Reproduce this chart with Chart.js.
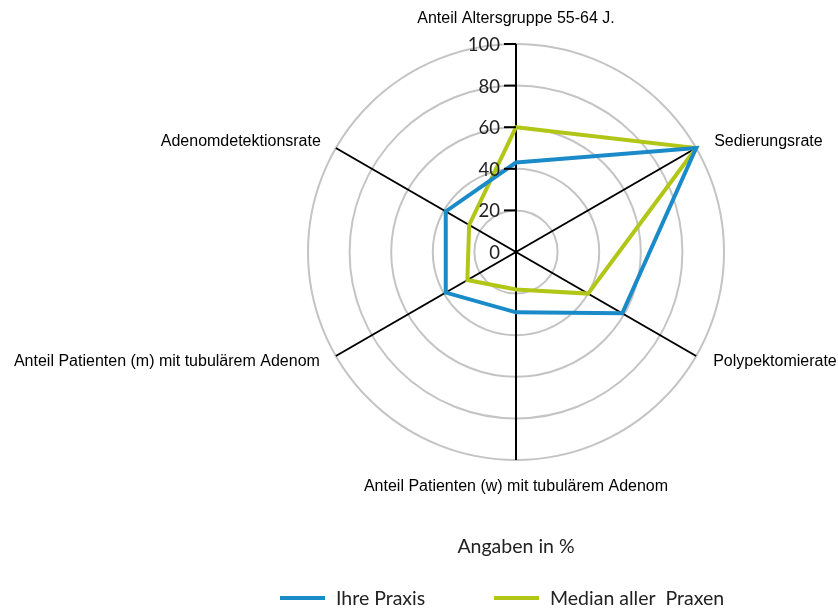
<!DOCTYPE html>
<html>
<head>
<meta charset="utf-8">
<script src="https://cdn.jsdelivr.net/npm/chart.js@4/dist/chart.umd.min.js"></script>
<style>
  html, body { margin: 0; padding: 0; background: #fff; }
  #wrap { width: 838px; height: 610px; }
</style>
</head>
<body>
<div id="wrap"><canvas id="c" width="838" height="610"></canvas></div>
<script>
const categories = [
  'Anteil Altersgruppe 55-64 J.',
  'Sedierungsrate',
  'Polypektomierate',
  'Anteil Patienten (w) mit tubulärem Adenom',
  'Anteil Patienten (m) mit tubulärem Adenom',
  'Adenomdetektionsrate'
];
const ihrePraxis = [43, 100, 59, 29, 39, 39];
const medianAllerPraxen = [60, 100, 40, 18, 27, 26];
const tickValues = [0, 20, 40, 60, 80, 100];
const seriesNames = ['Ihre Praxis', 'Median aller  Praxen'];
const axisNote = 'Angaben in %';

const BLUE = '#1a8ac8';
const GREEN = '#b2c617';

const labelPlugin = {
  id: 'customLabels',
  afterDraw(chart) {
    const s = chart.scales.r;
    const ctx = chart.ctx;
    ctx.save();
    // radial ticks at the vertical axis
    ctx.font = '18.5px Lato';
    ctx.fillStyle = '#222';
    ctx.textAlign = 'right';
    ctx.textBaseline = 'middle';
    ctx.strokeStyle = '#000';
    ctx.lineWidth = 2;
    tickValues.forEach(v => {
      const y = s.yCenter - s.getDistanceFromCenterForValue(v);
      ctx.fillText(String(v), s.xCenter - 16, y + 1);
      if (v > 0) {
        ctx.beginPath();
        ctx.moveTo(s.xCenter - 12, y);
        ctx.lineTo(s.xCenter, y);
        ctx.stroke();
      }
    });
    // point labels
    ctx.font = '16px "Liberation Sans", Arial, sans-serif';
    ctx.fillStyle = '#000';
    const offs = [
      [0, -25, 'center'],
      [18, -6, 'left'],
      [17, 6, 'left'],
      [0, 27, 'center'],
      [-16, 6, 'right'],
      [-15, -6, 'right']
    ];
    categories.forEach((c, i) => {
      const p = s.getPointPosition(i, s.drawingArea);
      const o = offs[i];
      ctx.textAlign = o[2];
      ctx.fillText(c, p.x + o[0], p.y + o[1]);
    });
    // note
    ctx.font = '19.5px Lato';
    ctx.fillStyle = '#222';
    ctx.textAlign = 'center';
    ctx.fillText(axisNote, s.xCenter, 547);
    // legend
    const leg = [[280, BLUE], [494, GREEN]];
    leg.forEach((l, i) => {
      ctx.strokeStyle = l[1];
      ctx.lineWidth = 4;
      ctx.beginPath();
      ctx.moveTo(l[0], 598);
      ctx.lineTo(l[0] + 45, 598);
      ctx.stroke();
      ctx.textAlign = 'left';
      ctx.fillStyle = '#222';
      ctx.fillText(seriesNames[i], l[0] + 56, 599);
    });
    ctx.restore();
  }
};

new Chart(document.getElementById('c'), {
  type: 'radar',
  data: {
    labels: categories,
    datasets: [
      { label: seriesNames[0], data: ihrePraxis, borderColor: BLUE, backgroundColor: BLUE, fill: false },
      { label: seriesNames[1], data: medianAllerPraxen, borderColor: GREEN, backgroundColor: GREEN, fill: false }
    ]
  },
  options: {
    responsive: false,
    animation: false,
    layout: { padding: { left: 308, right: 114, top: 44, bottom: 150 } },
    elements: {
      line: { borderWidth: 4, tension: 0 },
      point: { radius: 0, hoverRadius: 0 }
    },
    plugins: { legend: { display: false }, tooltip: { enabled: false } },
    scales: {
      r: {
        min: 0,
        max: 100,
        startAngle: 0,
        ticks: { display: false, stepSize: 20 },
        grid: { circular: true, color: '#c4c4c4', lineWidth: 2 },
        angleLines: { display: true, color: '#000', lineWidth: 2 },
        pointLabels: { display: false }
      }
    }
  },
  plugins: [labelPlugin]
});
</script>
</body>
</html>
